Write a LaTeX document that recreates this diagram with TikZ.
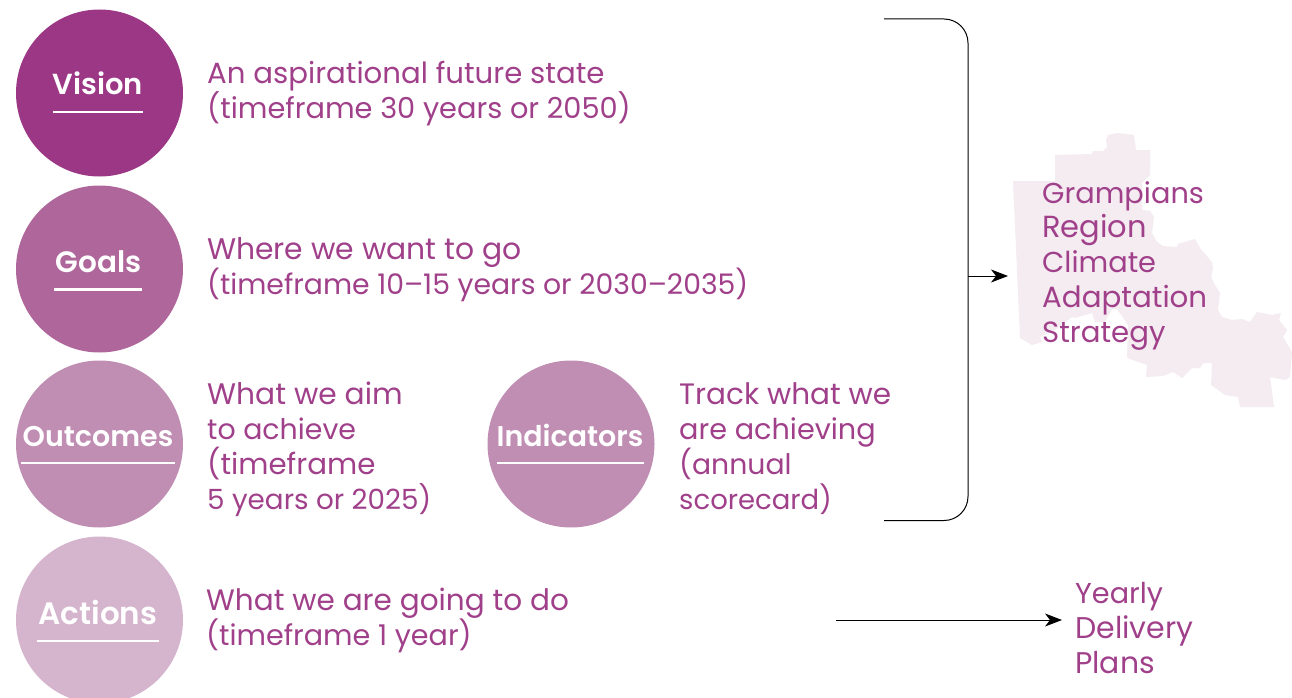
\documentclass[tikz,border=0pt]{standalone}
\usepackage{fontspec}
\setmainfont{Poppins}
\newfontfamily\lblfont{Poppins SemiBold}
\usetikzlibrary{arrows.meta}
\definecolor{txt}{HTML}{A0408A}
\definecolor{cA}{HTML}{9B3784}
\definecolor{cB}{HTML}{AE669B}
\definecolor{cC}{HTML}{C08EB3}
\definecolor{cD}{HTML}{D5B5CD}
\definecolor{mapc}{HTML}{F4ECF1}
\tikzset{
  disc/.style={circle,minimum size=167pt,inner sep=0pt,draw=none},
  lbl/.style={text=white,anchor=base,inner sep=0pt},
  rule/.style={white,line width=2.2pt},
  desc/.style={text=txt,anchor=base west,inner sep=0pt,font=\fontsize{28.8}{34.7}\selectfont,align=left},
  link/.style={black,line width=1pt,-{Stealth[length=17pt,width=13pt,inset=5pt]}},
}
\newcommand{\lblsize}[1]{\fontsize{#1}{#1}\selectfont\lblfont}
\newcommand{\ls}[2]{{\fontsize{#1}{34.7}\selectfont #2}}
\begin{document}
\begin{tikzpicture}[x=1pt,y=-1pt]
\useasboundingbox (0,0) rectangle (1292,698);
\fill[white] (0,0) rectangle (1292,698);
% map
\fill[mapc] (1013,181) -- (1055,181) -- (1055,155) -- (1092,154) -- (1093,151) -- (1103,151) -- (1107,147) -- (1106,140) -- (1108,135) -- (1117,133) -- (1134,135) -- (1136,150) -- (1150,150) -- (1150,175) -- (1142,183) -- (1142,210) -- (1150,211) -- (1154,217) -- (1152,233) -- (1157,242) -- (1163,246) -- (1177,247) -- (1178,244) -- (1195,239) -- (1200,248) -- (1212,262) -- (1213,268) -- (1211,277) -- (1215,285) -- (1220,293) -- (1218,310) -- (1222,317) -- (1232,320) -- (1242,319) -- (1250,322) -- (1257,312) -- (1272,315) -- (1281,313) -- (1279,320) -- (1287,330) -- (1283,337) -- (1292,352) -- (1290,377) -- (1285,380) -- (1270,377) -- (1274,407) -- (1240,407) -- (1238,397) -- (1225,395) -- (1211,385) -- (1212,363) -- (1203,363) -- (1200,368) -- (1192,368) -- (1182,378) -- (1173,372) -- (1163,376) -- (1146,377) -- (1147,365) -- (1127,358) -- (1128,325) -- (1117,309) -- (1112,309) -- (1105,322) -- (1095,322) -- (1092,313) -- (1075,318) -- (1072,317) -- (1055,330) -- (1040,337) -- (1042,342) -- (1032,345) -- (1020,338) -- cycle;
\node[disc,fill=cA] (vision) at (99.500,93) {};
\node[disc,fill=cB] (goals) at (99.500,269) {};
\node[disc,fill=cC] (outcomes) at (99.500,444) {};
\node[disc,fill=cC] (indicators) at (571,444) {};
\node[disc,fill=cD] (actions) at (99.500,620) {};
\node[lbl,font=\lblsize{29}] (tv) at (98,95) {Vision};
\node[lbl,font=\lblsize{29.500}] (tg) at (98.500,272) {Goals};
\node[lbl,font=\lblsize{28.500}] (to) at (98,446) {Outcomes};
\node[lbl,font=\lblsize{28.500}] (ti) at (570,446) {Indicators};
\node[lbl,font=\lblsize{31}] (ta) at (98,624) {Actions};
\draw[rule] (53,112) -- (143,112);
\draw[rule] (54,289.500) -- (142,289.500);
\draw[rule] (21,463) -- (175,463);
\draw[rule] (497,463) -- (644,463);
\draw[rule] (37,641) -- (159,641);
\node[desc] (d1) at (207,118) {\ls{29.2}{An aspirational future state}\\\ls{28.8}{(timeframe 30 years or 2050)}};
\node[desc] (d2) at (207,294) {\ls{29.8}{Where we want to go}\\\ls{28.3}{(timeframe 10–15 years or 2030–2035)}};
\node[desc] (d3) at (207,509) {\ls{29.7}{What we aim}\\\ls{28.4}{to achieve}\\\ls{29.3}{(timeframe}\\\ls{27.8}{5 years or 2025)}};
\node[desc] (d4) at (679,509) {\ls{29.5}{Track what we}\\\ls{28.7}{are achieving}\\\ls{28.3}{(annual}\\\ls{27.5}{scorecard)}};
\node[desc] (d5) at (206,645) {\ls{29.5}{What we are going to do}\\\ls{28.6}{(timeframe 1 year)}};
\node[desc] (d6) at (1042,342) {\ls{28.8}{Grampians}\\\ls{30.5}{Region}\\\ls{28.8}{Climate}\\\ls{29.3}{Adaptation}\\\ls{29.2}{Strategy}};
\node[desc] (d7) at (1075,673) {\ls{28.7}{Yearly}\\\ls{30}{Delivery}\\\ls{29.9}{Plans}};
\coordinate (bt) at (884,19);
\coordinate (bb) at (884,520.500);
\coordinate (bm) at (968,276);
\coordinate (be) at (1008,276);
\coordinate (af) at (836,620);
\coordinate (ae) at (1062,620);
\draw[black,line width=1pt,rounded corners=24pt] (bt) -- (968,19) -- (968,520.500) -- (bb);
\draw[link] (bm) -- (be);
\draw[link] (af) -- (ae);
\end{tikzpicture}
\end{document}
